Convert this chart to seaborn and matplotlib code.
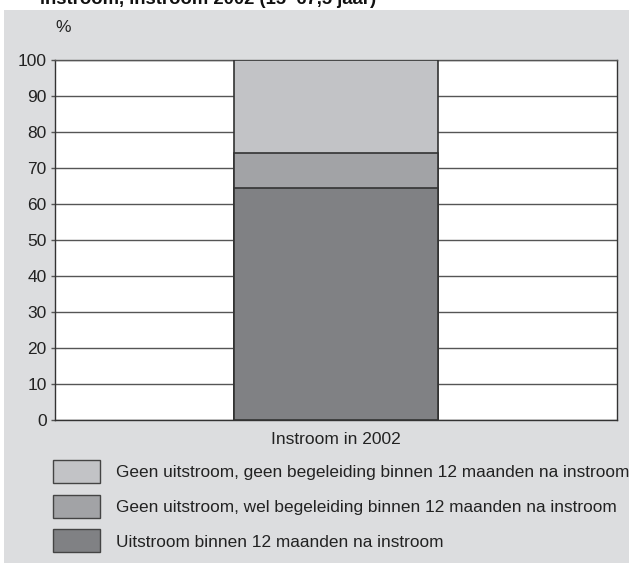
import matplotlib
matplotlib.use("Agg")
import matplotlib.pyplot as plt
import seaborn as sns
import numpy as np
import pandas as pd
from matplotlib.patches import Patch, Rectangle

# ---- data ----
category = ["Instroom in 2002"]
series_names = [
    "Uitstroom binnen 12 maanden na instroom",
    "Geen uitstroom, wel begeleiding binnen 12 maanden na instroom",
    "Geen uitstroom, geen begeleiding binnen 12 maanden na instroom",
]
series_values = [64.4, 9.8, 25.8]
series_colors = ["#808184", "#a2a3a6", "#c2c3c6"]
y_ticks = [0, 10, 20, 30, 40, 50, 60, 70, 80, 90, 100]
title_text = "instroom, instroom 2002 (15–67,5 jaar)"

sns.set_theme(style="white")
plt.rcParams["font.family"] = ["Liberation Sans", "DejaVu Sans"]

W, H = 629, 563
FS = 12.5
LFS = 12.4
fig = plt.figure(figsize=(W / 100, H / 100), dpi=100)
fig.patch.set_facecolor("white")

# grey panel background
bg = Rectangle((4 / W, 0), 1 - 4 / W, 1 - 10 / H,
               transform=fig.transFigure, facecolor="#dcdddf",
               edgecolor="none", zorder=-5)
fig.add_artist(bg)

ax = fig.add_axes([55 / W, 1 - 420 / H, (617 - 55) / W, (420 - 60) / H])
ax.set_zorder(1)
ax.set_facecolor("white")

cum = np.cumsum(series_values)
# draw from the top total down so lower segments overlay
for i in reversed(range(len(series_values))):
    df = pd.DataFrame({"cat": category, "val": [cum[i]]})
    sns.barplot(data=df, x="cat", y="val", color=series_colors[i], ax=ax,
                width=0.363, saturation=1, edgecolor="#333333", linewidth=1.2,
                zorder=3)

ax.set_ylim(0, 100)
ax.set_xlim(-0.5, 0.5)
ax.set_yticks(y_ticks)
ax.set_yticklabels([str(t) for t in y_ticks], fontsize=FS, color="#222222")
ax.yaxis.grid(True, color="#555555", linewidth=1.0, zorder=1)
ax.set_axisbelow(True)
ax.tick_params(axis="y", length=3, width=1, color="#555555", pad=3, left=True)
ax.tick_params(axis="x", length=0, labelsize=FS, pad=9, labelcolor="#222222")
ax.set_xlabel("")
ax.set_ylabel("")
for s in ax.spines.values():
    s.set_color("#333333")
    s.set_linewidth(1.0)
ax.spines["top"].set_color("#555555")

fig.text(55 / W, 1 - 28 / H, "%", fontsize=FS, color="#222222",
         ha="left", va="center")

fig.text(40 / W, 1 - 3.5 / H, title_text, fontsize=13.3, fontweight="bold",
         color="#111111", ha="left", va="baseline")

handles = [Patch(facecolor=series_colors[i], edgecolor="#444444", linewidth=1.0,
                 label=series_names[i]) for i in reversed(range(len(series_values)))]
fig.legend(handles=handles, loc="upper left",
           bbox_to_anchor=(53 / W, 1 - 460 / H), frameon=False,
           fontsize=LFS, handlelength=2.7, handleheight=1.69,
           labelspacing=0.67, handletextpad=0.93, borderaxespad=0,
           borderpad=0, labelcolor="#222222")

fig.savefig("out.png", dpi=100)
